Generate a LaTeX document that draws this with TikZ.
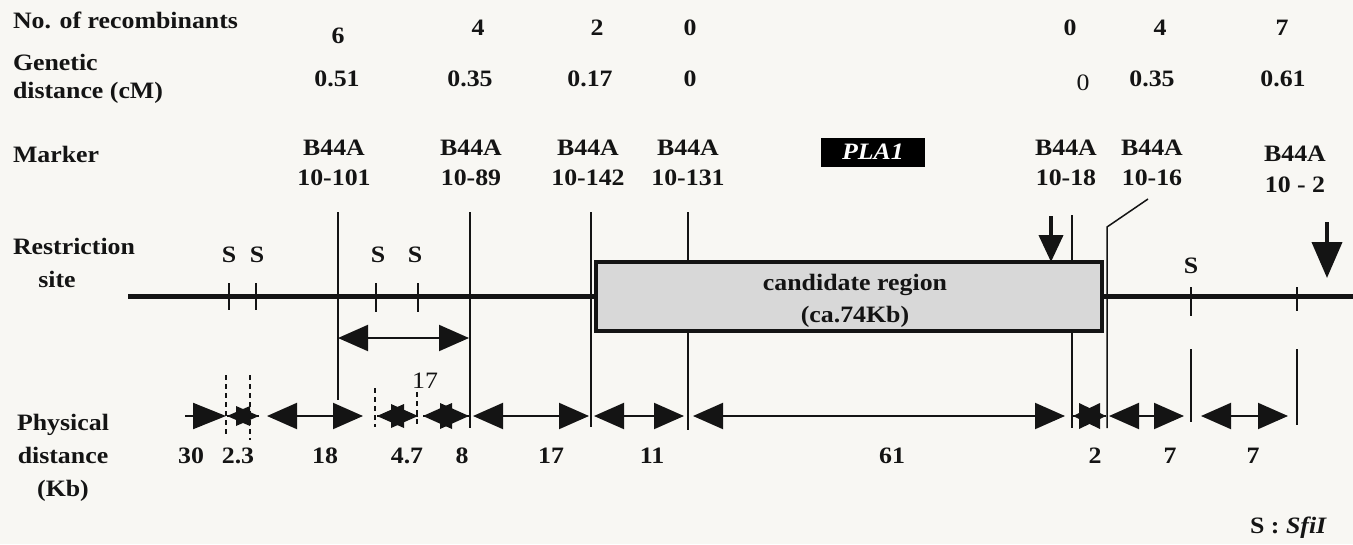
\documentclass[tikz,border=0pt]{standalone}
\usepackage{fontspec}
\setmainfont{Liberation Serif}[FakeStretch=1.1]
\usetikzlibrary{arrows.meta}
\definecolor{bg}{RGB}{248,247,243}
\definecolor{boxgray}{RGB}{216,216,216}
\definecolor{ink}{RGB}{20,20,20}
\newcommand\myfs{\fontsize{23.5}{26}\selectfont}
% two outward heads drawn as filled triangles: left tip, right tip, length, half width
\newcommand\dhead[4]{%
  \draw[draw=ink,line width=2] (#1) -- (#2);
  \fill[ink] (#1) -- ++(#3,-#4) -- ++(0,2*#4) -- cycle;
  \fill[ink] (#2) -- ++(-#3,-#4) -- ++(0,2*#4) -- cycle;}
\begin{document}
\begin{tikzpicture}[x=1pt,y=-1pt,
  every node/.style={inner sep=0pt,outer sep=0pt,text=ink},
  lab/.style={font=\myfs\bfseries,anchor=base west},
  num/.style={font=\myfs\bfseries,anchor=base},
  thin/.style={font=\myfs\mdseries,anchor=base},
  mline/.style={draw=ink,line width=1.5},
  dline/.style={draw=ink,line width=2,dash pattern=on 5pt off 4pt},
  dbl/.style={draw=ink,line width=2,{Triangle[length=30pt,width=26pt]}-{Triangle[length=30pt,width=26pt]}},
  sgl/.style={draw=ink,line width=2,-{Triangle[length=33pt,width=26pt]}}]
\fill[bg] (0,0) rectangle (1353,544);
\useasboundingbox (0,0) rectangle (1353,544);

% ---- left labels
\node[lab] (trec) at (13,28) {No. of recombinants};
\node[lab] (tgen1) at (13,70) {Genetic};
\node[lab] (tgen2) at (13,98) {distance (cM)};
\node[lab] (tmk) at (13,162) {Marker};
\node[lab] (tres1) at (13,254) {Restriction};
\node[num] (tres2) at (57,287) {site};
\node[num] (tph1) at (63,430) {Physical};
\node[num] (tph2) at (63,463) {distance};
\node[num] (tph3) at (63,496) {(Kb)};

% ---- recombinants
\node[num] (r1) at (338,43) {6};
\node[num] (r2) at (478,35) {4};
\node[num] (r3) at (597,35) {2};
\node[num] (r4) at (690,35) {0};
\node[num] (r5) at (1070,35) {0};
\node[num] (r6) at (1160,35) {4};
\node[num] (r7) at (1282,35) {7};

% ---- genetic distance
\node[num] (g1) at (337,86) {0.51};
\node[num] (g2) at (470,86) {0.35};
\node[num] (g3) at (590,86) {0.17};
\node[num] (g4) at (690,86) {0};
\node[thin] (g5) at (1083,90) {0};
\node[num] (g6) at (1152,86) {0.35};
\node[num] (g7) at (1283,86) {0.61};

% ---- markers
\node[num] (m1a) at (334,155) {B44A};
\node[num] (m1b) at (334,185) {10-101};
\node[num] (m2a) at (471,155) {B44A};
\node[num] (m2b) at (471,185) {10-89};
\node[num] (m3a) at (588,155) {B44A};
\node[num] (m3b) at (588,185) {10-142};
\node[num] (m4a) at (688,155) {B44A};
\node[num] (m4b) at (688,185) {10-131};
\node[num] (m5a) at (1066,155) {B44A};
\node[num] (m5b) at (1066,185) {10-18};
\node[num] (m6a) at (1152,155) {B44A};
\node[num] (m6b) at (1152,185) {10-16};
\node[num] (m7a) at (1295,161) {B44A};
\node[num] (m7b) at (1295,192) {10 - 2};
\node[fill=black,minimum width=104,minimum height=29,font=\myfs\bfseries\itshape,text=white] (pla) at (873,152) {PLA1};

% ---- coordinates of the map
\coordinate (mainL) at (128,296);
\coordinate (mainR) at (1353,296);
\coordinate (l1t) at (338,212);  \coordinate (l1b) at (338,400);
\coordinate (l2t) at (470,212);  \coordinate (l2b) at (470,428);
\coordinate (l3t) at (591,212);  \coordinate (l3b) at (591,427);
\coordinate (l4t) at (688,212);  \coordinate (l4b) at (688,430);
\coordinate (l5t) at (1072,215); \coordinate (l5b) at (1072,428);
\coordinate (l6a) at (1148,199); \coordinate (l6t) at (1107,227); \coordinate (l6b) at (1107,428);
\coordinate (l7t) at (1191,349); \coordinate (l7b) at (1191,422);
\coordinate (l8t) at (1297,349); \coordinate (l8b) at (1297,425);

% main line and marker lines
\draw[draw=ink,line width=5] (mainL) -- (mainR);
\draw[mline] (l1t) -- (l1b);
\draw[mline] (l2t) -- (l2b);
\draw[mline] (l3t) -- (l3b);
\draw[mline] (l4t) -- (l4b);
\draw[mline] (l5t) -- (l5b);
\draw[mline] (l6a) -- (l6t) -- (l6b);
\draw[mline] (l7t) -- (l7b);
\draw[mline] (l8t) -- (l8b);

% candidate region
\node[draw=ink,line width=4,fill=boxgray,minimum width=506,minimum height=69] (box) at (849,296.5) {};
\node[num] (c1) at (855,290) {candidate region};
\node[num] (c2) at (855,322) {(ca.74Kb)};

% restriction sites
\coordinate (s1t) at (229,283);  \coordinate (s1b) at (229,310);
\coordinate (s2t) at (256,283);  \coordinate (s2b) at (256,310);
\coordinate (s3t) at (376,283);  \coordinate (s3b) at (376,312);
\coordinate (s4t) at (418,283);  \coordinate (s4b) at (418,312);
\coordinate (s5t) at (1191,287); \coordinate (s5b) at (1191,316);
\coordinate (s6t) at (1297,287); \coordinate (s6b) at (1297,311);
\foreach \i in {1,...,6} \draw[mline] (s\i t) -- (s\i b);
\node[num] (S1) at (229,262) {S};
\node[num] (S2) at (257,262) {S};
\node[num] (S3) at (378,262) {S};
\node[num] (S4) at (415,262) {S};
\node[num] (S5) at (1191,273) {S};

% down arrows
\coordinate (d1t) at (1051,216); \coordinate (d1b) at (1051,262);
\coordinate (d2t) at (1327,222); \coordinate (d2b) at (1327,278);
\draw[draw=ink,line width=4,-{Triangle[length=27pt,width=24pt]}] (d1t) -- (d1b);
\draw[draw=ink,line width=4,-{Triangle[length=36pt,width=30pt]}] (d2t) -- (d2b);

% 17 kb arrow
\coordinate (u1) at (338,338); \coordinate (u2) at (469,338);
\draw[dbl] (u1) -- (u2);
\node[thin] (u17) at (425,388) {17};

% dashed lines
\coordinate (e1t) at (226,375); \coordinate (e1b) at (226,436);
\coordinate (e2t) at (250,375); \coordinate (e2b) at (250,440);
\coordinate (e3t) at (375,388); \coordinate (e3b) at (375,427);
\coordinate (e4t) at (417,392); \coordinate (e4b) at (417,427);
\foreach \i in {1,...,4} \draw[dline] (e\i t) -- (e\i b);

% physical distance arrows
\coordinate (a0) at (185,416);
\coordinate (a1) at (226,416);
\coordinate (b1) at (227,416);
\coordinate (b2) at (259,416);
\coordinate (a3) at (267,416);
\coordinate (a4) at (363,416);
\coordinate (b5) at (377,416);
\coordinate (b6) at (418,416);
\coordinate (b7) at (423,416);
\coordinate (b8) at (469,416);
\coordinate (a9) at (473,416);
\coordinate (a10) at (589,416);
\coordinate (a11) at (594,416);
\coordinate (a12) at (684,416);
\coordinate (a13) at (693,416);
\coordinate (a14) at (1065,416);
\coordinate (b15) at (1073,416);
\coordinate (b16) at (1106,416);
\coordinate (a17) at (1109,416);
\coordinate (a18) at (1184,416);
\coordinate (a19) at (1201,416);
\coordinate (a20) at (1288,416);
\draw[sgl] (a0) -- (a1);
\dhead{b1}{b2}{23}{10}
\draw[dbl] (a3) -- (a4);
\dhead{b5}{b6}{27}{12}
\dhead{b7}{b8}{29}{13}
\draw[dbl] (a9) -- (a10);
\draw[dbl] (a11) -- (a12);
\draw[dbl] (a13) -- (a14);
\dhead{b15}{b16}{27}{13}
\draw[dbl] (a17) -- (a18);
\draw[dbl] (a19) -- (a20);

% physical distance values
\node[num] (p1) at (191,463) {30};
\node[num] (p2) at (238,463) {2.3};
\node[num] (p3) at (325,463) {18};
\node[num] (p4) at (407,463) {4.7};
\node[num] (p5) at (462,463) {8};
\node[num] (p6) at (551,463) {17};
\node[num] (p7) at (652,463) {11};
\node[num] (p8) at (892,463) {61};
\node[num] (p9) at (1095,463) {2};
\node[num] (p10) at (1170,463) {7};
\node[num] (p11) at (1253,463) {7};

% legend
\node[font=\myfs\bfseries,anchor=base east] (sfi) at (1327,533) {S : \textit{SfiI}};
\end{tikzpicture}
\end{document}
